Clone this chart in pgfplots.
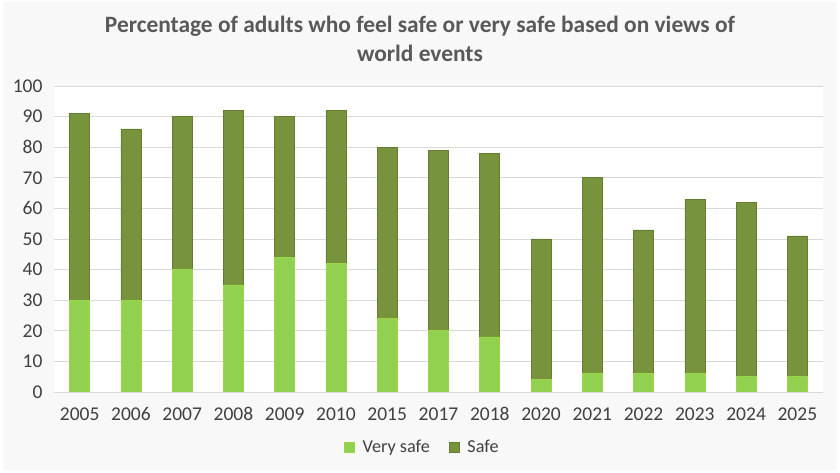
\documentclass[border=0pt]{standalone}
\usepackage{pgfplots}
\pgfplotsset{compat=1.18}
\usepackage{fontspec}
\setmainfont{Carlito}
\definecolor{vsafe}{HTML}{92D050}
\definecolor{safe}{HTML}{77933C}
\definecolor{gridc}{HTML}{D9D9D9}
\definecolor{txt}{HTML}{404040}
\definecolor{ttl}{HTML}{595959}
\definecolor{bg}{HTML}{F8F8F8}
\begin{document}
\begin{tikzpicture}[x=1pt,y=1pt]
\fill[white] (0,0) rectangle (840,473);
\fill[bg] (3,3) rectangle (837,471);
\fill[white] (54,81) rectangle (823,387);
\node[font=\fontsize{23.4}{29}\selectfont\bfseries, text=ttl, align=center] at (420,434.5) {Percentage of adults who feel safe or very safe based on views of\\world events};
\begin{axis}[
  at={(54pt,81pt)}, anchor=south west,
  scale only axis, width=769pt, height=306pt,
  ybar stacked, bar width=20pt,
  xmin=-0.5, xmax=14.5, ymin=0, ymax=100,
  xtick={0,...,14},
  xticklabels={2005,2006,2007,2008,2009,2010,2015,2017,2018,2020,2021,2022,2023,2024,2025},
  ytick={0,10,...,100},
  ymajorgrids, grid style={gridc, line width=0.8pt},
  axis x line*=bottom, axis y line*=left,
  x axis line style={gridc, line width=0.8pt, -},
  y axis line style={draw=none},
  major tick length=0pt,
  tick label style={font=\fontsize{19.5}{22}\selectfont, text=txt},
  /pgf/number format/assume math mode=true,
  yticklabel style={xshift=-8pt},
  xticklabel style={yshift=-12pt},
  legend style={at={(0.479,-0.18)}, anchor=center, draw=none, fill=none,
    font=\fontsize{18.2}{22}\selectfont, text=txt,
    /tikz/every even column/.append style={column sep=17pt}},
  legend columns=2,
  legend image code/.code={\fill[#1] (0pt,-5pt) rectangle (10pt,5pt); \path (16pt,0pt);},
]
\addplot[fill=vsafe, draw=vsafe!90!yellow, line width=0.6pt] coordinates {
(0,30) (1,30) (2,40) (3,35) (4,44) (5,42) (6,24) (7,20) (8,18) (9,4) (10,6) (11,6) (12,6) (13,5) (14,5)};
\addplot[fill=safe, draw=safe!85!black, line width=0.6pt] coordinates {
(0,61) (1,56) (2,50) (3,57) (4,46) (5,50) (6,56) (7,59) (8,60) (9,46) (10,64) (11,47) (12,57) (13,57) (14,46)};
\legend{Very safe, Safe}
\end{axis}
\end{tikzpicture}
\end{document}
